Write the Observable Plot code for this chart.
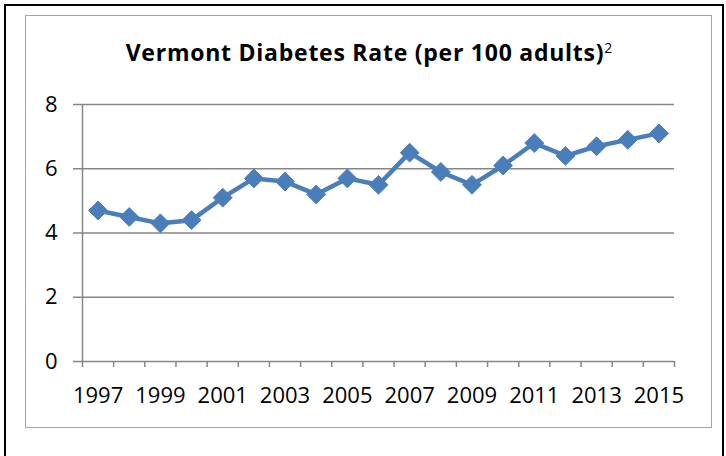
<!DOCTYPE html>
<html>
<head>
<meta charset="utf-8">
<script src="https://cdn.jsdelivr.net/npm/d3@7"></script>
<script src="https://cdn.jsdelivr.net/npm/@observablehq/plot@0.6"></script>
<style>
  html, body { margin: 0; padding: 0; background: #fff; }
  #wrap { position: relative; width: 726px; height: 456px; overflow: hidden; font-family: "Open Sans", sans-serif; }
  #outer { position: absolute; left: 4px; top: 4px; width: 716px; height: 470px; border: 2px solid #000; border-bottom: none; }
  #inner { position: absolute; left: 25px; top: 15px; width: 685px; height: 411px; border: 1.5px solid #a6a6a6; }
  #title { position: absolute; left: 25px; width: 688px; top: 37px; text-align: center; font-weight: 700; font-size: 23px; letter-spacing: 0.75px; color: #000; line-height: 30px; white-space: nowrap; }
  #title sup { font-weight: 400; font-size: 14px; letter-spacing: 0; vertical-align: 8px; line-height: 0; }
  #chart { position: absolute; left: 0; top: 0; }
</style>
</head>
<body>
<div id="wrap">
  <div id="outer"></div>
  <div id="inner"></div>
  <div id="title">Vermont Diabetes Rate (per 100 adults)<sup>2</sup></div>
  <div id="chart"></div>
</div>
<script>
const years = [1997,1998,1999,2000,2001,2002,2003,2004,2005,2006,2007,2008,2009,2010,2011,2012,2013,2014,2015];
const rates = [4.7,4.5,4.3,4.4,5.1,5.7,5.6,5.2,5.7,5.5,6.5,5.9,5.5,6.1,6.8,6.4,6.7,6.9,7.1];
const yTicks = [0,2,4,6,8];
const xLabels = [1997,1999,2001,2003,2005,2007,2009,2011,2013,2015];

const data = years.map((y, i) => ({year: y, rate: rates[i]}));
const boundaries = [years[0] - 0.5, ...years.map(y => y + 0.5)];
const gray = "#868686";
const blue = "#4a7ebb";

const plot = Plot.plot({
  width: 726,
  height: 456,
  marginLeft: 82,
  marginRight: 52,
  marginTop: 104,
  marginBottom: 95,
  style: {fontFamily: "'Open Sans', sans-serif", fontSize: "22px", color: "#000", background: "transparent"},
  x: {type: "linear", domain: [boundaries[0], boundaries[boundaries.length - 1]]},
  y: {domain: [0, 8]},
  marks: [
    Plot.ruleY(yTicks.filter(d => d > 0), {stroke: gray, strokeWidth: 1.5, strokeOpacity: 1}),
    Plot.axisY(yTicks, {tickSize: 9, tickPadding: 16, stroke: gray, strokeWidth: 1.5, strokeOpacity: 1, fill: "#000", label: null, fontSize: 22}),
    Plot.ruleX([boundaries[0]], {stroke: gray, strokeWidth: 1.5}),
    Plot.ruleY([0], {stroke: gray, strokeWidth: 1.5}),
    Plot.axisX(boundaries, {tickSize: 6, tickFormat: () => "", stroke: gray, strokeWidth: 1.5, strokeOpacity: 1, label: null}),
    Plot.axisX(xLabels, {tickSize: 0, tickPadding: 26, tickFormat: d3.format("d"), fill: "#000", label: null, fontSize: 22}),
    Plot.line(data, {x: "year", y: "rate", stroke: blue, strokeWidth: 4.5}),
    Plot.dot(data, {x: "year", y: "rate", symbol: "diamond2", r: 8.5, fill: blue, stroke: blue, strokeWidth: 1})
  ]
});
document.getElementById("chart").appendChild(plot);
</script>
</body>
</html>
